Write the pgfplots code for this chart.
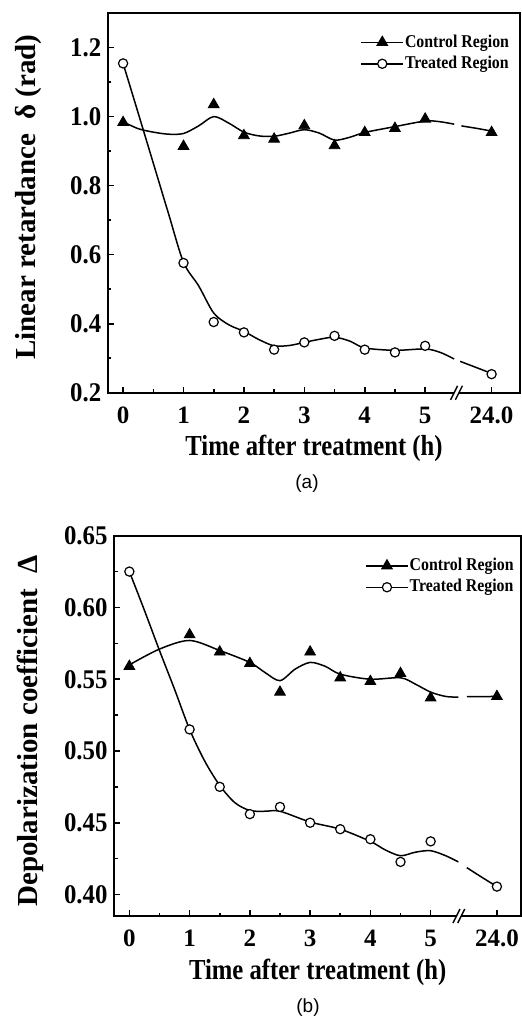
\documentclass[border=0pt]{standalone}
\usepackage{fontspec}
\setmainfont{Liberation Serif}
\newfontfamily\condfont{Liberation Serif}[FakeStretch=0.85]
\newfontfamily\tickfont{Liberation Serif}[FakeStretch=0.92]
\newfontfamily\legfont{Liberation Serif}[FakeStretch=0.88]
\newfontfamily\capfont{Liberation Sans}
\usepackage{pgfplots}
\pgfplotsset{compat=1.18}

% 24 h is drawn at x=6.1 behind the axis break
\pgfplotsset{
  panel/.style={
    scale only axis, clip=false,
    tick pos=left, tick align=inside,
    axis line style={line width=1pt},
    every tick/.style={black, line width=0.8pt},
    major tick length=3pt, minor tick length=1.7pt,
    xmin=-0.25,
    xtick={0,1,2,3,4,5,6.1}, xticklabels={0,1,2,3,4,5,24.0},
    minor xtick={0.5,1.5,2.5,3.5,4.5},
    xticklabel style={font=\fontsize{12.5}{14}\selectfont\bfseries, anchor=base, yshift=-15.3pt},
    yticklabel style={font=\tickfont\fontsize{13.5}{15}\selectfont\bfseries, anchor=east, inner sep=0pt, xshift=-3.2pt},
    /pgf/number format/assume math mode=true,
    /pgf/number format/fixed, /pgf/number format/fixed zerofill,
    xlabel style={font=\condfont\fontsize{14.5}{16}\selectfont\bfseries, anchor=base},
    ylabel style={font=\fontsize{14.5}{16}\selectfont\bfseries, anchor=base},
    legend cell align=left,
    legend style={draw=none, fill=none, inner sep=0pt, row sep=2pt,
      font=\legfont\fontsize{9}{10.5}\selectfont\bfseries,
      nodes={inner sep=0.5pt, text depth=0.15em}, anchor=north west},
  },
  legimg/.style={legend image code/.code={
    \draw[black, line width=0.75pt] (0pt,0pt) -- (21pt,0pt);
    \draw[only marks] plot coordinates {(10.5pt,0pt)};}},
  ctrl/.style={only marks, mark=triangle*, mark size=3.1pt, black, legimg},
  trt/.style={only marks, mark=*, mark size=2.3pt, black,
    mark options={fill=white, draw=black, line width=0.6pt}, legimg},
  fit/.style={smooth, no marks, black, line width=0.75pt, forget plot},
}

\begin{document}
\begin{tikzpicture}

% (a) linear retardance
\begin{axis}[panel,
  at={(54pt,-6.5pt)}, anchor=north west,
  width=206pt, height=189.9pt,
  xmax=6.57, ymin=0.2, ymax=1.3,
  ytick={0.2,0.4,...,1.2}, minor ytick={0.3,0.5,...,1.1},
  yticklabel style={/pgf/number format/precision=1},
  xlabel={Time after treatment (h)},
  ylabel={Linear retardance\ \ δ (rad)},
  xlabel style={at={(axis description cs:0.5,-0.164)}},
  ylabel style={at={(axis description cs:-0.177,0.515)}},
  legend style={at={(axis description cs:0.612,0.947)}},
]
\addplot[ctrl] coordinates {(0,0.983)(1,0.914)(1.5,1.035)(2,0.945)(2.5,0.935)(3,0.974)(3.5,0.916)(4,0.954)(4.5,0.966)(5,0.993)(6.1,0.954)};
\addplot[trt] coordinates {(0,1.154)(1,0.576)(1.5,0.405)(2,0.375)(2.5,0.325)(3,0.346)(3.5,0.365)(4,0.325)(4.5,0.317)(5,0.336)(6.1,0.254)};
\legend{Control Region, Treated Region}
% fitted curves, broken at the axis gap
\addplot[fit] coordinates {(0,0.985)(0.25,0.965)(0.5,0.955)(0.75,0.949)(1,0.951)(1.25,0.973)(1.5,1.000)(1.75,0.981)(2,0.955)(2.25,0.944)(2.5,0.943)(2.75,0.952)(3,0.962)(3.25,0.952)(3.5,0.932)(3.75,0.940)(4,0.954)(4.5,0.971)(5,0.987)(5.25,0.985)(5.48,0.978)};
\addplot[fit] coordinates {(5.6,0.973)(5.85,0.966)(6.1,0.958)};
\addplot[fit] coordinates {(0,1.154)(0.25,1.01)(0.5,0.865)(0.75,0.72)(1,0.578)(1.25,0.51)(1.5,0.431)(1.75,0.397)(2,0.378)(2.25,0.354)(2.5,0.336)(2.75,0.337)(3,0.346)(3.25,0.355)(3.5,0.361)(3.75,0.350)(4,0.330)(4.5,0.323)(5,0.327)(5.25,0.317)(5.48,0.298)};
\addplot[fit] coordinates {(5.58,0.291)(5.85,0.273)(6.1,0.256)};
% axis break
\fill[white] ([xshift=-3.2pt,yshift=-2pt]axis cs:5.56,0.2) -- ++(2pt,4pt) -- ++(2.2pt,0pt) -- ++(-2pt,-4pt) -- cycle;
\draw[line width=0.7pt] ([xshift=-4.2pt,yshift=-3.5pt]axis cs:5.56,0.2) -- ++(3.5pt,7pt);
\draw[line width=0.7pt] ([xshift=-1.8pt,yshift=-3.5pt]axis cs:5.56,0.2) -- ++(3.5pt,7pt);
\end{axis}

% (b) depolarization coefficient
\begin{axis}[panel,
  at={(57.15pt,-267.85pt)}, anchor=north west,
  width=203.35pt, height=190.15pt,
  xmax=6.5, ymin=0.385, ymax=0.65,
  ytick={0.40,0.45,...,0.65}, minor ytick={0.425,0.475,...,0.63},
  yticklabel style={/pgf/number format/precision=2},
  xlabel={Time after treatment (h)},
  ylabel={Depolarization coefficient\ \ Δ},
  xlabel style={at={(axis description cs:0.5,-0.166)}},
  ylabel style={at={(axis description cs:-0.1876,0.486)}},
  legend style={at={(axis description cs:0.616,0.945)}},
]
\addplot[ctrl] coordinates {(0,0.559)(1,0.581)(1.5,0.569)(2,0.561)(2.5,0.541)(3,0.569)(3.5,0.551)(4,0.5485)(4.5,0.554)(5,0.537)(6.1,0.538)};
\addplot[trt] coordinates {(0,0.625)(1,0.515)(1.5,0.475)(2,0.456)(2.5,0.461)(3,0.450)(3.5,0.4455)(4,0.4385)(4.5,0.4227)(5,0.437)(6.1,0.4055)};
\legend{Control Region, Treated Region}
\addplot[fit] coordinates {(0,0.560)(0.5,0.571)(1,0.577)(1.5,0.570)(2,0.5617)(2.25,0.5547)(2.5,0.549)(2.75,0.557)(3,0.5617)(3.25,0.559)(3.5,0.5535)(4,0.550)(4.5,0.551)(4.75,0.5465)(5,0.541)(5.25,0.538)(5.46,0.5375)};
\addplot[fit] coordinates {(5.6,0.5378)(6.1,0.538)};
\addplot[fit] coordinates {(0,0.625)(0.25,0.598)(0.5,0.570)(0.75,0.543)(1,0.515)(1.25,0.493)(1.5,0.476)(1.75,0.464)(2,0.4585)(2.25,0.458)(2.5,0.458)(3,0.4505)(3.5,0.4455)(4,0.437)(4.25,0.431)(4.5,0.427)(4.75,0.4295)(5,0.4305)(5.25,0.427)(5.46,0.4227)};
\addplot[fit] coordinates {(5.6,0.4187)(5.85,0.412)(6.1,0.4055)};
\fill[white] ([xshift=-3.2pt,yshift=-2pt]axis cs:5.51,0.385) -- ++(2pt,4pt) -- ++(2.2pt,0pt) -- ++(-2pt,-4pt) -- cycle;
\draw[line width=0.7pt] ([xshift=-4.2pt,yshift=-3.5pt]axis cs:5.51,0.385) -- ++(3.5pt,7pt);
\draw[line width=0.7pt] ([xshift=-1.8pt,yshift=-3.5pt]axis cs:5.51,0.385) -- ++(3.5pt,7pt);
\end{axis}

\node[font=\capfont\fontsize{9.5}{11}\selectfont] at (153.5pt,-242pt) {(a)};
\node[font=\capfont\fontsize{9.5}{11}\selectfont] at (154pt,-504pt) {(b)};

\pgfresetboundingbox
\path[use as bounding box] (0pt,0pt) rectangle (260.5pt,-508.5pt);
\end{tikzpicture}
\end{document}
